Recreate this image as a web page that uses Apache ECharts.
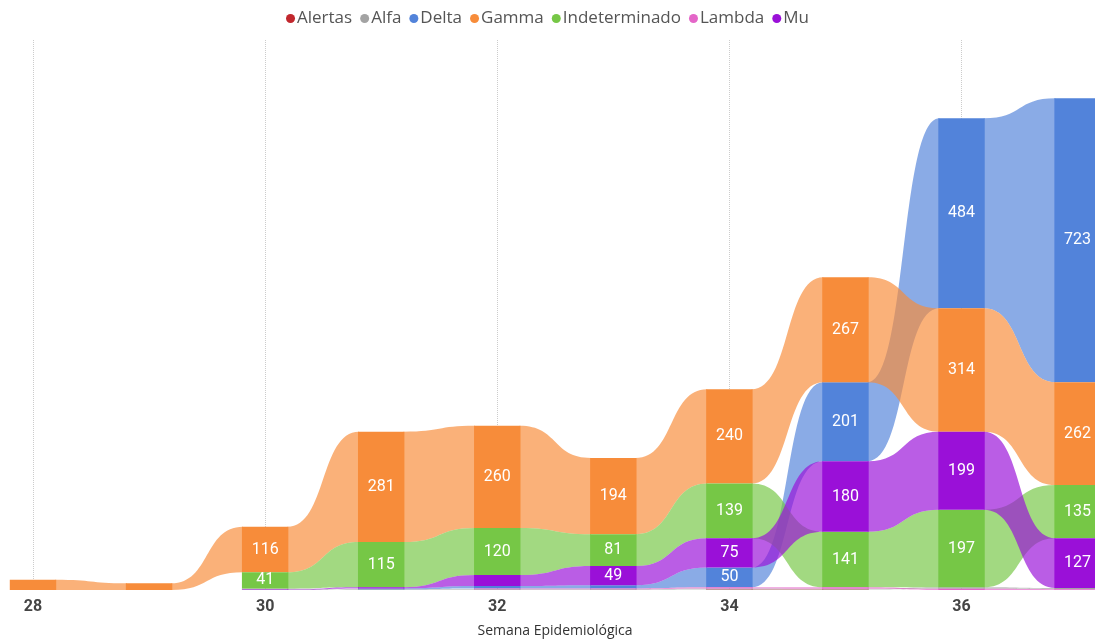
<!DOCTYPE html>
<html>
<head>
<meta charset="utf-8">
<script src="https://cdn.jsdelivr.net/npm/echarts@6/dist/echarts.min.js"></script>
<style>
html,body{margin:0;padding:0;background:#fff;}
#chart{width:1095px;height:641px;}
</style>
</head>
<body>
<div id="chart"></div>
<script>
const weeks = [28, 29, 30, 31, 32, 33, 34, 35, 36, 37];
const seriesNames = ['Alertas', 'Alfa', 'Delta', 'Gamma', 'Indeterminado', 'Lambda', 'Mu'];
const alertas = [0, 0, 0, 0, 0, 0, 1, 1, 0, 0];
const alfa = [0, 0, 3, 2, 2, 2, 3, 2, 4, 3];
const delta = [0, 0, 0, 2, 6, 8, 50, 201, 484, 723];
const gamma = [26, 17, 116, 281, 260, 194, 240, 267, 314, 262];
const indeterminado = [0, 0, 41, 115, 120, 81, 139, 141, 197, 135];
const lambda = [0, 0, 0, 0, 2, 2, 3, 4, 3, 2];
const mu = [0, 0, 1, 3, 28, 49, 75, 180, 199, 127];
const xTickLabels = ['28', '30', '32', '34', '36'];
const axisTitle = 'Semana Epidemiológica';

const values = [alertas, alfa, delta, gamma, indeterminado, lambda, mu];
const colors = ['#C1272D', '#A3A3A3', '#5283DA', '#F78C3A', '#76C746', '#E466C8', '#9A10D8'];

// stacking per week: largest on top
const bottoms = values.map(() => weeks.map(() => 0));
const tops = values.map(() => weeks.map(() => 0));
weeks.forEach((w, j) => {
  const idx = values.map((v, s) => s).filter(s => values[s][j] > 0);
  idx.sort((a, b) => values[a][j] - values[b][j]);
  let acc = 0;
  idx.forEach(s => {
    bottoms[s][j] = acc;
    acc += values[s][j];
    tops[s][j] = acc;
  });
});

const BAR_W = 0.4;

function makeRibbon(s) {
  return {
    type: 'custom',
    name: seriesNames[s],
    itemStyle: { color: colors[s] },
    clip: false,
    z: 1,
    silent: true,
    encode: { x: 0, y: 1 },
    data: weeks.map((w, j) => [w, tops[s][j]]),
    renderItem: function (params, api) {
      const j = params.dataIndex;
      if (j >= weeks.length - 1) return null;
      const v = values[s];
      if (!(v[j] > 0 && v[j + 1] > 0)) return null;
      const hw = api.size([BAR_W, 0])[0] / 2;
      const a1 = api.coord([weeks[j], tops[s][j]]);
      const a0 = api.coord([weeks[j], bottoms[s][j]]);
      const b1 = api.coord([weeks[j + 1], tops[s][j + 1]]);
      const b0 = api.coord([weeks[j + 1], bottoms[s][j + 1]]);
      const xL = a1[0] + hw - 1;
      const xR = b1[0] - hw + 1;
      const d = (xR - xL) * 0.55;
      const p = 'M' + xL + ',' + a1[1] +
        ' C' + (xL + d) + ',' + a1[1] + ' ' + (xR - d) + ',' + b1[1] + ' ' + xR + ',' + b1[1] +
        ' L' + xR + ',' + b0[1] +
        ' C' + (xR - d) + ',' + b0[1] + ' ' + (xL + d) + ',' + a0[1] + ' ' + xL + ',' + a0[1] + ' Z';
      return {
        type: 'path',
        shape: { pathData: p },
        style: { fill: colors[s], opacity: 0.68 }
      };
    }
  };
}

function makeBar(s) {
  return {
    type: 'custom',
    name: seriesNames[s],
    itemStyle: { color: colors[s] },
    clip: false,
    z: 2,
    encode: { x: 0, y: 1 },
    data: weeks.map((w, j) => [w, tops[s][j]]),
    renderItem: function (params, api) {
      const j = params.dataIndex;
      const val = values[s][j];
      if (!(val > 0)) return null;
      const hw = api.size([BAR_W, 0])[0] / 2;
      const p1 = api.coord([weeks[j], tops[s][j]]);
      const p0 = api.coord([weeks[j], bottoms[s][j]]);
      const el = {
        type: 'rect',
        shape: { x: p0[0] - hw, y: p1[1], width: hw * 2, height: p0[1] - p1[1] },
        style: { fill: colors[s] }
      };
      if (val >= 35) {
        el.textContent = {
          style: { text: String(val), fill: '#ffffff', fontSize: 16, fontFamily: 'Roboto' }
        };
        el.textConfig = { position: 'inside' };
      }
      return el;
    }
  };
}

const series = [];
values.forEach((v, s) => series.push(makeRibbon(s)));
values.forEach((v, s) => series.push(makeBar(s)));

const chart = echarts.init(document.getElementById('chart'));
chart.setOption({
  animation: false,
  backgroundColor: '#ffffff',
  legend: {
    data: seriesNames,
    top: 5,
    left: 'center',
    icon: 'circle',
    itemWidth: 9,
    itemHeight: 9,
    itemGap: 8,
    textStyle: { fontSize: 17, color: '#555555', fontFamily: 'Open Sans', padding: [0, 0, 0, -3] }
  },
  grid: { left: 33, right: 0, top: 40, bottom: 51 },
  xAxis: {
    type: 'value',
    min: 28,
    max: 37.15,
    interval: 2,
    axisLine: { show: false },
    axisTick: { show: false },
    splitLine: { show: true, lineStyle: { type: 'dotted', color: '#cccccc', width: 1 } },
    axisLabel: {
      showMaxLabel: false,
      margin: 9,
      fontSize: 16,
      fontWeight: 'bold',
      color: '#444444',
      fontFamily: 'Roboto',
      formatter: function (v) {
        const t = String(v);
        return xTickLabels.indexOf(t) >= 0 ? t : '';
      }
    }
  },
  yAxis: { type: 'value', min: 0, max: 1400, show: false, splitLine: { show: false } },
  graphic: [{
    type: 'text',
    x: 555,
    y: 631,
    style: { text: axisTitle, fontSize: 14, fill: '#333333', fontFamily: 'Open Sans', align: 'center', verticalAlign: 'middle' }
  }],
  series: series
});
</script>
</body>
</html>
